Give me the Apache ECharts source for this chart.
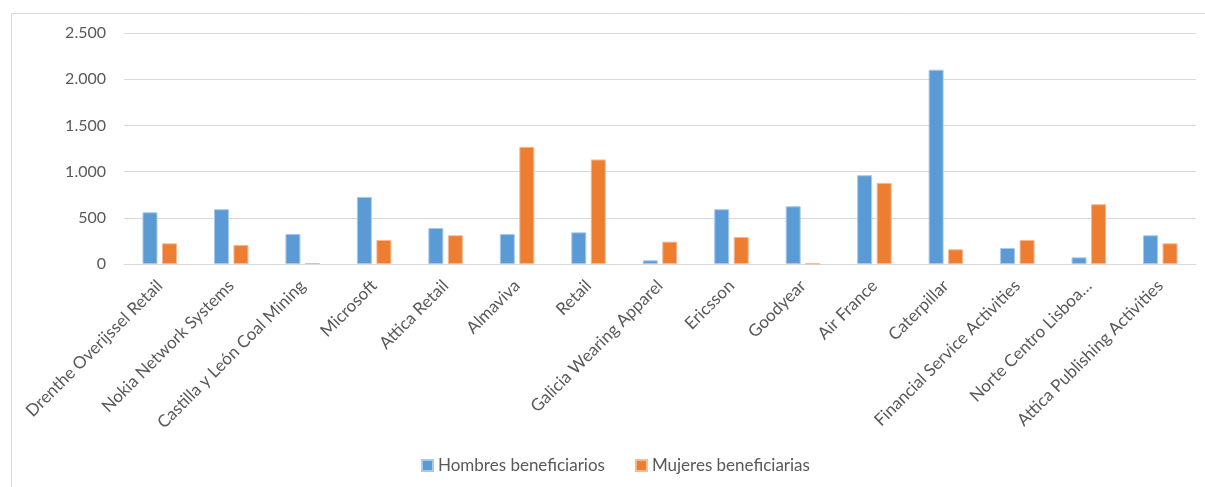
<!DOCTYPE html>
<html><head><meta charset="utf-8">
<script src="https://cdn.jsdelivr.net/npm/echarts@6/dist/echarts.min.js"></script>
<style>html,body{margin:0;padding:0;background:#fff;}#c{width:1205px;height:487px;}</style>
</head><body><div id="c"></div>
<script>
const categories = ["Drenthe Overijssel Retail","Nokia Network Systems","Castilla y León Coal Mining","Microsoft","Attica Retail","Almaviva","Retail","Galicia Wearing Apparel","Ericsson","Goodyear","Air France","Caterpillar","Financial Service Activities","Norte Centro Lisboa…","Attica Publishing Activities"];
const hombres = [560, 593, 325, 726, 390, 325, 343, 40, 593, 625, 961, 2103, 173, 72, 311];
const mujeres = [224, 206, 10, 260, 311, 1268, 1131, 242, 293, 5, 878, 159, 260, 647, 224];
const seriesNames = ["Hombres beneficiarios", "Mujeres beneficiarias"];
const yTicks = [0, 500, 1000, 1500, 2000, 2500];

const chart = echarts.init(document.getElementById('c'));
const font = 'Lato, "Open Sans", sans-serif';
chart.setOption({
  animation: false,
  textStyle: {fontFamily: font},
  graphic: [{type:'rect', left: 9, top: 11, shape:{width:1250, height:520}, style:{fill:'none', stroke:'#d9d9d9', lineWidth:1}, silent:true}],
  grid: {left: 124, right: 9, top: 33, bottom: 223, containLabel: false},
  legend: {
    top: 457, left: 421, padding: 0, itemWidth: 11, itemHeight: 11, itemGap: 30,
    icon: 'rect', data: seriesNames,
    textStyle: {color: '#595959', fontSize: 17, fontFamily: font}
  },
  xAxis: {
    type: 'category', data: categories,
    axisLine: {lineStyle: {color: '#d9d9d9', width: 1}},
    axisTick: {show: false},
    axisLabel: {rotate: 45, interval: 0, color: '#595959', fontSize: 17, margin: 19, fontFamily: font}
  },
  yAxis: {
    type: 'value', min: yTicks[0], max: yTicks[yTicks.length-1], interval: 500,
    axisLine: {show: false}, axisTick: {show: false},
    splitLine: {lineStyle: {color: '#d9d9d9', width: 1}},
    axisLabel: {color: '#595959', fontSize: 16, margin: 18, fontFamily: font,
      formatter: v => v.toLocaleString('de-DE')}
  },
  series: [
    {name: seriesNames[0], type: 'bar', data: hombres, barWidth: 15, barGap: '30%', barCategoryGap: '51%',
     itemStyle: {color: '#5b9bd5', borderColor: '#a9c9ec', borderWidth: 1}},
    {name: seriesNames[1], type: 'bar', data: mujeres, barWidth: 15,
     itemStyle: {color: '#ed7d31', borderColor: '#f6b994', borderWidth: 1}}
  ]
});
</script></body></html>
